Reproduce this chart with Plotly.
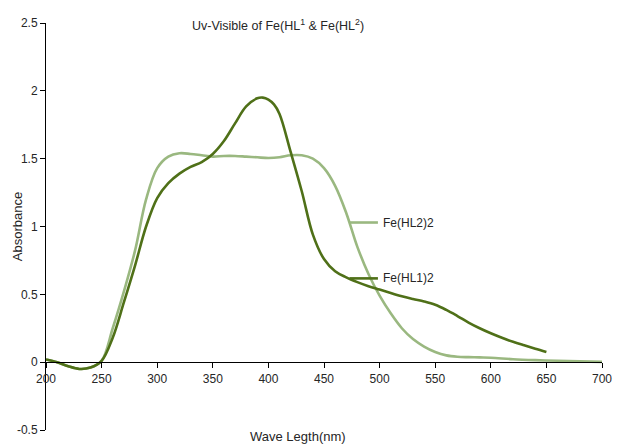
import plotly.graph_objects as go

# Fe(HL1)2 (dark green)
wl_hl1 = [200, 210, 220, 230, 240, 250, 260, 270, 280, 290, 300, 310, 320, 330, 340,
          350, 360, 370, 380, 390, 395, 400, 405, 410, 420, 430, 440, 450, 460, 470, 480,
          490, 500, 510, 520, 530, 540, 550, 560, 570, 580, 590, 600, 610, 620, 630,
          640, 650]
abs_hl1 = [0.02, 0.0, -0.03, -0.05, -0.04, 0.01, 0.18, 0.44, 0.71, 1.0, 1.21, 1.32, 1.39,
           1.44, 1.475, 1.535, 1.63, 1.76, 1.885, 1.945, 1.95, 1.935, 1.9, 1.83, 1.55, 1.26,
           0.94, 0.76, 0.67, 0.625, 0.59, 0.56, 0.535, 0.51, 0.485, 0.465, 0.447, 0.423,
           0.385, 0.34, 0.292, 0.25, 0.213, 0.18, 0.15, 0.124, 0.099, 0.075]

# Fe(HL2)2 (light green)
wl_hl2 = [200, 210, 220, 230, 240, 250, 260, 270, 280, 290, 300, 310, 320, 330, 340,
          350, 360, 370, 380, 390, 400, 410, 420, 430, 440, 450, 460, 470, 480, 490,
          500, 510, 520, 530, 540, 550, 560, 570, 580, 590, 600, 620, 640, 660, 680, 700]
abs_hl2 = [0.02, 0.0, -0.03, -0.05, -0.04, 0.01, 0.25, 0.52, 0.82, 1.2, 1.43, 1.515, 1.54,
           1.535, 1.525, 1.515, 1.52, 1.52, 1.515, 1.51, 1.505, 1.51, 1.525, 1.525, 1.50,
           1.43, 1.30, 1.10, 0.85, 0.65, 0.49, 0.36, 0.25, 0.17, 0.115, 0.075, 0.05, 0.04,
           0.037, 0.035, 0.033, 0.022, 0.015, 0.01, 0.006, 0.002]

x_ticks = [200, 250, 300, 350, 400, 450, 500, 550, 600, 650, 700]
y_ticks = [-0.5, 0, 0.5, 1, 1.5, 2, 2.5]
y_tick_text = ["-0.5", "0", "0.5", "1", "1.5", "2", "2.5"]

DARK = "#4F7018"
LIGHT = "#9AB880"
TXT = "#262626"
FONT = "Liberation Sans"

fig = go.Figure()
fig.add_trace(go.Scatter(x=wl_hl2, y=abs_hl2, mode="lines", name="Fe(HL2)2",
                         line=dict(color=LIGHT, width=2.6, shape="spline", smoothing=1.0)))
fig.add_trace(go.Scatter(x=wl_hl1, y=abs_hl1, mode="lines", name="Fe(HL1)2",
                         line=dict(color=DARK, width=2.6, shape="spline", smoothing=1.0)))

fig.update_layout(
    width=623, height=448,
    margin=dict(l=46, r=11, t=23, b=17),
    paper_bgcolor="white", plot_bgcolor="white",
    showlegend=False,
    font=dict(family=FONT, size=12, color=TXT),
    xaxis=dict(range=[200, 700], tickvals=x_ticks, ticks="outside", ticklen=5,
               tickcolor="#000", showline=True, linecolor="#000", linewidth=1,
               showgrid=False, zeroline=False, anchor="free", position=1/6,
               tickfont=dict(family=FONT, size=12, color=TXT)),
    yaxis=dict(range=[-0.5, 2.5], tickvals=y_ticks, ticktext=y_tick_text,
               ticks="outside", ticklen=5, tickcolor="#000", showline=True,
               linecolor="#000", linewidth=1, showgrid=False, zeroline=False,
               tickfont=dict(family=FONT, size=12, color=TXT)),
)

ann = [
    dict(text="Uv-Visible of Fe(HL<sup>1</sup> & Fe(HL<sup>2</sup>)", x=0.418, y=0.995,
         xanchor="center", yanchor="middle", font=dict(size=12.5)),
    dict(text="Absorbance", x=-0.051, y=0.5, textangle=-90, xanchor="center",
         yanchor="middle", font=dict(size=13)),
    dict(text="Wave Legth(nm)", x=0.454, y=-0.017, xanchor="center", yanchor="middle",
         font=dict(size=13)),
    dict(text="Fe(HL2)2", x=0.6025, y=0.5098, xanchor="left", yanchor="middle",
         font=dict(size=12)),
    dict(text="Fe(HL1)2", x=0.6025, y=0.3725, xanchor="left", yanchor="middle",
         font=dict(size=12)),
]
for a in ann:
    a.update(xref="paper", yref="paper", showarrow=False)
fig.update_layout(annotations=ann)

fig.add_shape(type="line", xref="paper", yref="paper", x0=0.546, x1=0.597,
              y0=0.5098, y1=0.5098, line=dict(color=LIGHT, width=2.6))
fig.add_shape(type="line", xref="paper", yref="paper", x0=0.546, x1=0.597,
              y0=0.3725, y1=0.3725, line=dict(color=DARK, width=2.6))

fig.write_html("out.html")
